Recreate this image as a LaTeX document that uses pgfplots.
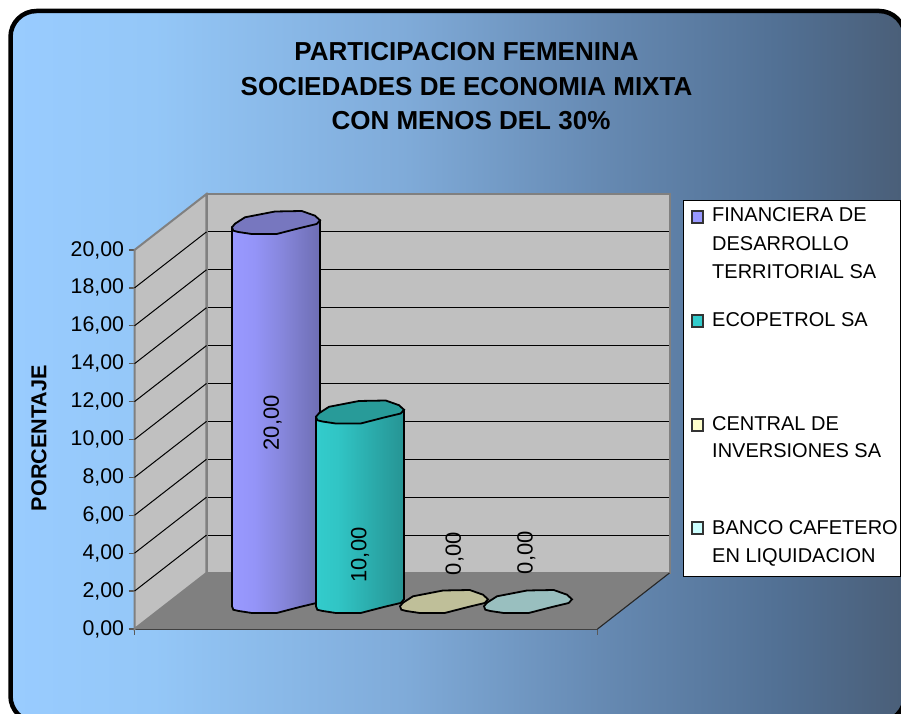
\documentclass[border=0pt]{standalone}
\usepackage{fontspec}
\setmainfont{Liberation Sans}
\usepackage{pgfplots}
\pgfplotsset{compat=1.18}

\definecolor{wallgray}{HTML}{C0C0C0}
\definecolor{floorgray}{HTML}{808080}
\definecolor{serA}{HTML}{9999FF}
\definecolor{serAcap}{HTML}{7777BF}
\definecolor{serB}{HTML}{33CCCC}
\definecolor{serBcap}{HTML}{289B99}
\definecolor{serCcap}{HTML}{BFBF99}
\definecolor{serDcap}{HTML}{99BFBF}
\definecolor{serC}{HTML}{FFFFCC}
\definecolor{serD}{HTML}{CCFFFF}

\pgfdeclarehorizontalshading{chartbg}{100bp}{
  rgb(0bp)=(0.6,0.8,1);
  rgb(25bp)=(0.6,0.8,1);
  rgb(33bp)=(0.58,0.78,0.97);
  rgb(47bp)=(0.50,0.67,0.85);
  rgb(58bp)=(0.40,0.54,0.70);
  rgb(68bp)=(0.32,0.44,0.58);
  rgb(75bp)=(0.29,0.37,0.47);
  rgb(100bp)=(0.29,0.37,0.47)}

% cylinder sides: stays light on the left, darkens to the right
\pgfdeclarehorizontalshading{cylA}{100bp}{
  rgb(0bp)=(0.6,0.6,1);
  rgb(25bp)=(0.6,0.6,1);
  rgb(38bp)=(0.58,0.58,0.97);
  rgb(55bp)=(0.52,0.52,0.85);
  rgb(75bp)=(0.43,0.43,0.70);
  rgb(100bp)=(0.43,0.43,0.70)}
\pgfdeclarehorizontalshading{cylB}{100bp}{
  rgb(0bp)=(0.2,0.8,0.8);
  rgb(25bp)=(0.2,0.8,0.8);
  rgb(38bp)=(0.19,0.77,0.77);
  rgb(55bp)=(0.17,0.68,0.68);
  rgb(75bp)=(0.15,0.58,0.58);
  rgb(100bp)=(0.15,0.58,0.58)}

% top face of a cylinder, outline read from the picture (1pt = 1px)
\pgfdeclareplotmark{cylcap}{%
  \pgfsetcornersarced{\pgfpoint{6pt}{6pt}}%
  \pgfpathmoveto{\pgfpoint{-44pt}{-4.3pt}}%
  \pgfpathlineto{\pgfpoint{-41pt}{-0.7pt}}%
  \pgfpathlineto{\pgfpoint{-31pt}{5.7pt}}%
  \pgfpathlineto{\pgfpoint{-1pt}{11.5pt}}%
  \pgfpathlineto{\pgfpoint{25.7pt}{12pt}}%
  \pgfpathlineto{\pgfpoint{39pt}{7.3pt}}%
  \pgfpathlineto{\pgfpoint{44pt}{2.7pt}}%
  \pgfpathlineto{\pgfpoint{40.7pt}{-1pt}}%
  \pgfpathlineto{\pgfpoint{24pt}{-5pt}}%
  \pgfpathlineto{\pgfpoint{0.7pt}{-11pt}}%
  \pgfpathlineto{\pgfpoint{-24.3pt}{-11pt}}%
  \pgfpathlineto{\pgfpoint{-37.7pt}{-9pt}}%
  \pgfpathlineto{\pgfpoint{-42.7pt}{-7.7pt}}%
  \pgfpathclose
  \pgfusepathqfillstroke}

\pgfplotsset{
  plane/.style={
    scale only axis,
    width=463pt,
    height=379pt,
    xmin=-1.256, xmax=4.256,
    ymin=0, ymax=20,
    clip=false,
  },
}

\begin{document}
\begin{tikzpicture}[x=1pt,y=1pt]
\path[use as bounding box] (0,0) rectangle (901,714);
\clip (0,0) rectangle (901,714);

\path[shading=chartbg,draw=black,line width=4.5pt,rounded corners=26pt]
  (10.5,-8) rectangle (905,703);

% back wall
\begin{axis}[
    plane,
    at={(206.5pt,141pt)},
    anchor=south west,
    axis background/.style={fill=wallgray},
    axis line style={draw=floorgray,line width=2pt},
    xtick=\empty,
    ytick={2,4,...,18},
    yticklabels={},
    major tick length=0pt,
    ymajorgrids,
    grid style={black,line width=1.1pt},
]
\addplot[draw=none] coordinates {(0,0)};
\end{axis}

% front plane: side wall, floor, value axis
\begin{axis}[
    plane,
    at={(134.5pt,85pt)},
    anchor=south west,
    axis x line=bottom,
    axis y line=left,
    axis line style={draw=black!75,line width=1.6pt,-},
    tick style={draw=black!65,line width=1.3pt},
    tick align=outside,
    major tick length=6pt,
    xtick={-1.256,4.256},
    xticklabels={},
    ytick={0,2,...,20},
    yticklabel style={
        /pgf/number format/fixed,
        /pgf/number format/fixed zerofill,
        /pgf/number format/precision=2,
        /pgf/number format/use comma,
        /pgf/number format/assume math mode=true,
        font=\fontsize{21.3}{24}\selectfont,
        xshift=-1pt,
    },
    unbounded coords=jump,
]
% side wall
\addplot[fill=wallgray,draw=floorgray,line width=2pt]
  coordinates {(-1.256,0) (-1.256,20) (-0.399,22.955) (-0.399,2.955)} --cycle;
% floor
\addplot[fill=floorgray,draw=none]
  coordinates {(-1.256,0) (4.256,0) (5.113,2.955) (-0.399,2.955)} --cycle;
\addplot[draw=black!85,line width=1.1pt]
  coordinates {(4.256,0) (5.113,2.955)};
% gridlines on the side wall
\addplot[draw=black,line width=1.0pt] coordinates {
  (-1.256,2) (-0.399,4.955) (-1,nan)
  (-1.256,4) (-0.399,6.955) (-1,nan)
  (-1.256,6) (-0.399,8.955) (-1,nan)
  (-1.256,8) (-0.399,10.955) (-1,nan)
  (-1.256,10) (-0.399,12.955) (-1,nan)
  (-1.256,12) (-0.399,14.955) (-1,nan)
  (-1.256,14) (-0.399,16.955) (-1,nan)
  (-1.256,16) (-0.399,18.955) (-1,nan)
  (-1.256,18) (-0.399,20.955)
};
\end{axis}

% cylinders stand half way into the depth
\begin{axis}[
    plane,
    at={(170.5pt,112pt)},
    anchor=south west,
    hide axis,
]
\addplot[draw=black,line width=1.8pt,shading=cylA]
  coordinates {(-0.524,19.77) (-0.524,-0.23) (-0.508,-0.41) (-0.449,-0.47)
    (-0.289,-0.58) (0.008,-0.58) (0.286,-0.26) (0.485,-0.05) (0.524,0.14) (0.524,20.14)} --cycle;
\addplot[only marks,mark=cylcap,mark options={fill=serAcap,draw=black,line width=1.8pt}]
  coordinates {(0,20)};
\addplot[draw=black,line width=1.8pt,shading=cylB]
  coordinates {(0.476,9.77) (0.476,-0.23) (0.492,-0.41) (0.551,-0.47)
    (0.711,-0.58) (1.008,-0.58) (1.286,-0.26) (1.485,-0.05) (1.524,0.14) (1.524,10.14)} --cycle;
\addplot[only marks,mark=cylcap,mark options={fill=serBcap,draw=black,line width=1.8pt}]
  coordinates {(1,10)};
\addplot[only marks,mark=cylcap,mark options={fill=serCcap,draw=black,line width=1.8pt}]
  coordinates {(2,0)};
\addplot[only marks,mark=cylcap,mark options={fill=serDcap,draw=black,line width=1.8pt}]
  coordinates {(3,0)};
\begin{scope}[every node/.style={rotate=90,font=\fontsize{22}{24}\selectfont,inner sep=0pt}]
\node at (axis cs:-0.04,9.45) {20,00};
\node at (axis cs:1,2.48) {10,00};
\node at (axis cs:2.125,2.55) {0,00};
\node at (axis cs:2.98,2.6) {0,00};
\end{scope}
\end{axis}

\node[align=center,font=\fontsize{26}{34.5}\selectfont\bfseries] at (466.5,627.5)
  {PARTICIPACION FEMENINA\\SOCIEDADES DE ECONOMIA MIXTA\\\hspace*{9pt}CON MENOS DEL 30\%};
\node[rotate=90,font=\fontsize{21.6}{24}\selectfont\bfseries] at (39,276) {PORCENTAJE};

% legend, entries a fixed distance apart
\draw[fill=white,draw=black,line width=0.8pt] (683.5,138) rectangle (900,514);
\begin{scope}[every node/.style={anchor=base west,inner sep=0pt,font=\fontsize{20}{24}\selectfont},
              swatch/.style={draw=black!80,line width=1.3pt}]
\draw[swatch,fill=serA] (692,491) rectangle (703,503);
\node at (712,492) {FINANCIERA DE};
\node at (712,463) {DESARROLLO};
\node at (712,435) {TERRITORIAL SA};
\draw[swatch,fill=serB] (692,387) rectangle (703,399);
\node at (712,387) {ECOPETROL SA};
\draw[swatch,fill=serC] (692,283) rectangle (703,295);
\node at (712,283) {CENTRAL DE};
\node at (712,256) {INVERSIONES SA};
\draw[swatch,fill=serD] (692,180) rectangle (703,192);
\node at (712,179) {BANCO CAFETERO};
\node at (712,151) {EN LIQUIDACION};
\end{scope}
\end{tikzpicture}
\end{document}
